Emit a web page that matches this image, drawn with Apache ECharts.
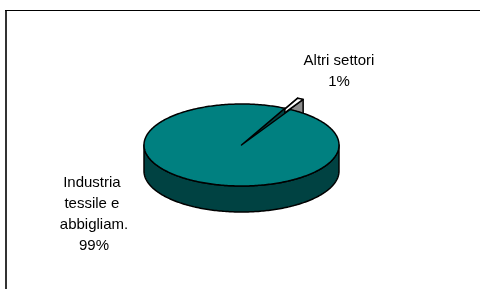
<!DOCTYPE html>
<html>
<head>
<meta charset="utf-8">
<script src="https://cdn.jsdelivr.net/npm/echarts@6/dist/echarts.min.js"></script>
<style>
  html, body { margin: 0; padding: 0; background: #fff; }
  #chart { width: 480px; height: 289px; }
</style>
</head>
<body>
<div id="chart"></div>
<script>
// 3D-look pie (Excel style) drawn with a custom series: each slice's top face,
// front wall and cut faces are built from the data values.
const categories = ['Industria tessile e abbigliam.', 'Altri settori'];
const values = [99, 1];
const topColors = ['#008080', '#ffffff'];
const sideColors = ['#004242', '#8c8c8c'];
const exploded = [0, 0.28];

// layout (pixels)
const CX = 241.5, CY = 145, RX = 97.5, RY = 41, DEPTH = 26;
const START = 30;                 // degrees clockwise from 12 o'clock
const labelPos = [[94, 214], [339, 71]];

const total = values.reduce((a, b) => a + b, 0);
const starts = [];
values.reduce((acc, v, i) => { starts[i] = acc; return acc + v; }, 0);

const rad = d => d * Math.PI / 180;

function renderItem(params, api) {
  const i = params.dataIndex;
  const v = api.value(0);
  const a0 = START + starts[i] / total * 360;
  const a1 = a0 + v / total * 360;
  const mid = (a0 + a1) / 2;
  const e = exploded[i];
  const ox = e * RX * Math.sin(rad(mid)), oy = -e * RY * Math.cos(rad(mid));
  const pt = (a, r, dz) => [CX + ox + r * RX * Math.sin(rad(a)), CY + oy - r * RY * Math.cos(rad(a)) + (dz || 0)];
  const arc = (s, t, dz) => {
    const pts = [];
    const n = Math.max(2, Math.ceil(Math.abs(t - s)));
    for (let k = 0; k <= n; k++) pts.push(pt(s + (t - s) * k / n, 1, dz));
    return pts;
  };
  const base = i === 0 ? 10 : 0;
  const stroke = { stroke: '#000', lineWidth: 1.5, lineJoin: 'round' };
  const children = [];

  // radial cut faces
  [a0, a1].forEach(a => {
    children.push({
      type: 'polygon', z2: base + 1,
      shape: { points: [pt(a, 0), pt(a, 1), pt(a, 1, DEPTH), pt(a, 0, DEPTH)] },
      style: Object.assign({ fill: sideColors[i] }, stroke)
    });
  });

  // outer wall, only the front half (90..270 deg) is visible
  [[90, 270], [450, 630]].forEach(([ws, we]) => {
    const s = Math.max(a0, ws), t = Math.min(a1, we);
    if (t <= s) return;
    const pts = arc(s, t, 0).concat(arc(t, s, DEPTH));
    children.push({
      type: 'polygon', z2: base + 2,
      shape: { points: pts },
      style: Object.assign({ fill: sideColors[i] }, stroke)
    });
  });

  // top face
  children.push({
    type: 'polygon', z2: base + 3,
    shape: { points: [pt(a0, 0)].concat(arc(a0, a1, 0)) },
    style: Object.assign({ fill: topColors[i] }, stroke)
  });

  // label
  const pct = Math.round(v / total * 100) + '%';
  children.push({
    type: 'text', z2: 30,
    style: {
      text: categories[i] + '\n' + pct,
      x: labelPos[i][0], y: labelPos[i][1],
      width: 80, overflow: 'break',
      align: 'center', verticalAlign: 'middle',
      fontFamily: 'Liberation Sans, Arial, sans-serif', fontSize: 15,
      lineHeight: 21, fill: '#000'
    }
  });

  return { type: 'group', children };
}

const chart = echarts.init(document.getElementById('chart'));
chart.setOption({
  backgroundColor: '#fff',
  animation: false,
  graphic: [
    { type: 'line', silent: true, shape: { x1: 6, y1: 10, x2: 6, y2: 300 },
      style: { stroke: '#333', lineWidth: 2 } },
    { type: 'line', silent: true, shape: { x1: 5, y1: 10.5, x2: 500, y2: 10.5 },
      style: { stroke: '#000', lineWidth: 1 } }
  ],
  series: [{
    type: 'custom',
    coordinateSystem: 'none',
    silent: true,
    renderItem,
    data: values.map((v, i) => ({ name: categories[i], value: [v] }))
  }]
});
</script>
</body>
</html>
